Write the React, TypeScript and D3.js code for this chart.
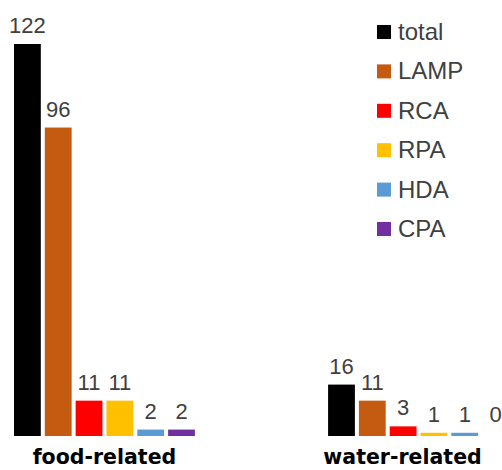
import * as d3 from "d3";
import { useEffect, useRef } from "react";

const categories = ["food-related", "water-related"];
const series = ["total", "LAMP", "RCA", "RPA", "HDA", "CPA"];
const colors = ["#000000", "#C55A11", "#FF0000", "#FFC000", "#5B9BD5", "#7030A0"];
const foodValues = [122, 96, 11, 11, 2, 2];
const waterValues = [16, 11, 3, 1, 1, 0];

const App: React.FC = () => {
  const svgRef = useRef<SVGSVGElement | null>(null);

  useEffect(() => {
    const svg = d3.select(svgRef.current);
    svg.selectAll("*").remove();

    const width = 502;
    const height = 470;
    svg.attr("width", width).attr("height", height);

    const values = [foodValues, waterValues];

    // Group scale and inner scale for the six methods
    const x0 = d3.scaleBand().domain(categories).range([14, 509]).paddingInner(0.424);
    const x1 = d3.scaleBand().domain(series).range([0, x0.bandwidth()]).paddingInner(0.13);
    const y = d3.scaleLinear().domain([0, 122]).range([436, 44]);

    const groups = svg
      .selectAll("g.group")
      .data(categories)
      .join("g")
      .attr("class", "group")
      .attr("transform", (d) => `translate(${x0(d)},0)`);

    groups
      .selectAll("rect")
      .data((d, i) => values[i].map((v, j) => ({ key: series[j], v, c: colors[j] })))
      .join("rect")
      .attr("x", (d) => x1(d.key) as number)
      .attr("y", (d) => y(d.v))
      .attr("width", x1.bandwidth())
      .attr("height", (d) => y(0) - y(d.v))
      .attr("fill", (d) => d.c);

    // Value labels (zero keeps the same lift as one, as in the source)
    groups
      .selectAll("text.val")
      .data((d, i) => values[i].map((v, j) => ({ key: series[j], v })))
      .join("text")
      .attr("class", "val")
      .attr("x", (d) => (x1(d.key) as number) + x1.bandwidth() / 2)
      .attr("y", (d) => y(Math.max(d.v, 1)) - 11)
      .attr("text-anchor", "middle")
      .attr("font-family", "'Liberation Sans', Arial, sans-serif")
      .attr("font-size", 22)
      .attr("fill", "#404040")
      .text((d) => d.v);

    // Category labels
    const labelShift = [0, -16];
    svg
      .selectAll("text.cat")
      .data(categories)
      .join("text")
      .attr("class", "cat")
      .attr("x", (d, i) => (x0(d) as number) + x0.bandwidth() / 2 + labelShift[i])
      .attr("y", 464)
      .attr("text-anchor", "middle")
      .attr("font-family", "'DejaVu Sans', sans-serif")
      .attr("font-weight", "bold")
      .attr("font-size", 20.5)
      .attr("fill", "#000")
      .text((d) => d);

    // Legend
    const ly = d3.scalePoint().domain(series).range([40, 237]);
    const legend = svg
      .selectAll("g.legend")
      .data(series)
      .join("g")
      .attr("class", "legend")
      .attr("transform", (d) => `translate(377,${ly(d)})`);

    legend
      .append("rect")
      .attr("x", 0)
      .attr("y", -15)
      .attr("width", 14)
      .attr("height", 14)
      .attr("fill", (d, i) => colors[i]);

    legend
      .append("text")
      .attr("x", 21)
      .attr("y", 0)
      .attr("font-family", "'Liberation Sans', Arial, sans-serif")
      .attr("font-size", 24)
      .attr("fill", "#404040")
      .text((d) => d);
  }, []);

  return (
    <svg
      ref={svgRef}
      style={{ position: "absolute", left: 0, top: 0, background: "#fff", overflow: "hidden" }}
    ></svg>
  );
};

export default App;
